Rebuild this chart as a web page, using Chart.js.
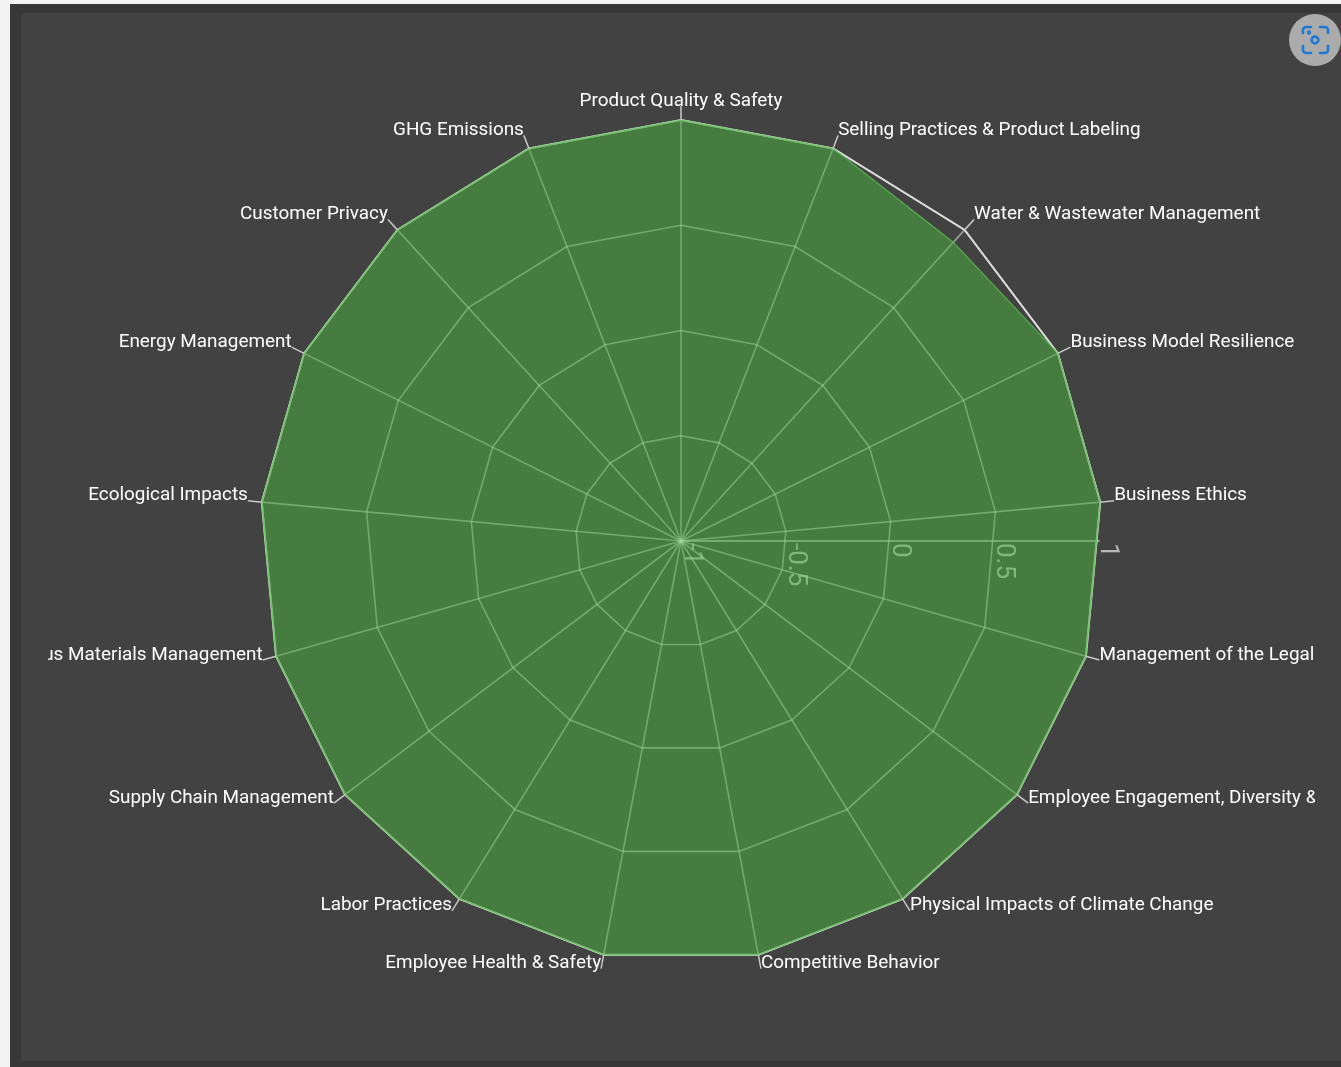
<!DOCTYPE html>
<html>
<head>
<meta charset="utf-8">
<title>Radar</title>
<script src="https://cdn.jsdelivr.net/npm/chart.js@4"></script>
<style>
  html, body { margin: 0; padding: 0; background: #f3f3f3; overflow: hidden; }
  .outer { position: absolute; left: 10px; top: 4px; width: 1331px; height: 1063px; background: #373737; }
  .panel { position: absolute; left: 21px; top: 13px; width: 1320px; height: 1048px; background: #424242; border-radius: 5px 0 0 0; }
  canvas { position: absolute; left: 0; top: 0; }
  .lens { position: absolute; left: 1289px; top: 14px; width: 52px; height: 52px; border-radius: 50%; background: #ababab; }
</style>
</head>
<body>
<div class="outer"></div>
<div class="panel"></div>
<canvas id="radarChart" width="1341" height="1067"></canvas>
<div class="lens">
  <svg width="52" height="52" viewBox="0 0 52 52" fill="none" stroke="#1f78d1" stroke-width="2.6" stroke-linecap="round">
    <path d="M14 19 v-3 a3 3 0 0 1 3-3 h5"/>
    <path d="M31 13 h5 a3 3 0 0 1 3 3 v3"/>
    <path d="M39 32 v4 a3 3 0 0 1-3 3 h-5"/>
    <path d="M22 39 h-5 a3 3 0 0 1-3-3 v-4"/>
    <circle cx="26" cy="26" r="3.4"/>
    <circle cx="20" cy="18.5" r="0.9"/>
  </svg>
</div>
<script>
const categories = [
  "Product Quality & Safety",
  "Selling Practices & Product Labeling",
  "Water & Wastewater Management",
  "Business Model Resilience",
  "Business Ethics",
  "Management of the Legal & Regulatory Environment",
  "Employee Engagement, Diversity & Inclusion",
  "Physical Impacts of Climate Change",
  "Competitive Behavior",
  "Employee Health & Safety",
  "Labor Practices",
  "Supply Chain Management",
  "Hazardous Materials Management",
  "Ecological Impacts",
  "Energy Management",
  "Customer Privacy",
  "GHG Emissions",
];
const scoreValues = [1, 1, 0.92, 1, 1, 1, 1, 1, 1, 1, 1, 1, 1, 1, 1, 1, 1];
const outlineValues = [1, 1, 1, 1, 1, 1, 1, 1, 1, 1, 1, 1, 1, 1, 1, 1, 1];
const tickValues = [-1, -0.5, 0, 0.5, 1];
const tickLabels = ["-1", "-0.5", "0", "0.5", "1"];

// tick labels sit on a horizontal axis, under the fill
const axisPlugin = {
  id: "axisPlugin",
  beforeDatasetsDraw(chart) {
    const scale = chart.scales.r;
    const ctx = chart.ctx;
    const half = Math.PI / categories.length;
    // the horizontal axis cuts the polygon edge between two spokes
    const factor = Math.cos(half) / Math.cos(half / 2);

    ctx.save();
    ctx.strokeStyle = "rgba(255,255,255,0.48)";
    ctx.lineWidth = 2;
    ctx.beginPath();
    ctx.moveTo(scale.xCenter, scale.yCenter);
    ctx.lineTo(scale.xCenter + scale.drawingArea * factor + 3, scale.yCenter);
    ctx.stroke();

    ctx.fillStyle = "rgba(255,255,255,0.62)";
    ctx.font = "26px Roboto";
    ctx.textAlign = "left";
    ctx.textBaseline = "alphabetic";
    tickValues.forEach((value, i) => {
      const dist = scale.getDistanceFromCenterForValue(value) * factor;
      ctx.save();
      ctx.translate(scale.xCenter + dist, scale.yCenter);
      ctx.rotate(Math.PI / 2);
      ctx.fillText(tickLabels[i], 2, -4);
      ctx.restore();
    });
    ctx.restore();
  },
};

// category labels with a short leader line, clipped like the original svg
const labelPlugin = {
  id: "labelPlugin",
  afterDatasetsDraw(chart) {
    const scale = chart.scales.r;
    const ctx = chart.ctx;
    const outer = scale.drawingArea;

    ctx.save();
    ctx.beginPath();
    ctx.rect(48, 0, 1267, chart.height);
    ctx.clip();
    ctx.font = "18.9px Roboto";
    ctx.fillStyle = "#ffffff";
    ctx.textBaseline = "alphabetic";
    categories.forEach((name, i) => {
      const start = scale.getPointPosition(i, outer);
      const end = scale.getPointPosition(i, outer + 14);
      ctx.strokeStyle = "#c8c8c8";
      ctx.lineWidth = 1.5;
      ctx.beginPath();
      ctx.moveTo(start.x, start.y);
      ctx.lineTo(end.x, end.y);
      ctx.stroke();

      if (i === 0) ctx.textAlign = "center";
      else if (i < categories.length / 2) ctx.textAlign = "left";
      else ctx.textAlign = "right";
      ctx.fillText(name, end.x, end.y - 0.5);
    });
    ctx.restore();
  },
};

const canvas = document.getElementById("radarChart");
const ctx = canvas.getContext("2d");

new Chart(ctx, {
  type: "radar",
  plugins: [axisPlugin, labelPlugin],
  data: {
    labels: categories,
    datasets: [
      {
        label: "Score",
        data: scoreValues,
        borderColor: "rgba(90,190,80,0.7)",
        borderWidth: 1.5,
        backgroundColor: "rgba(74,182,62,0.5)",
        fill: "start",
        pointRadius: 0,
        order: 1,
      },
      {
        label: "Outline",
        data: outlineValues,
        borderColor: "#dcdcdc",
        borderWidth: 2,
        fill: false,
        pointRadius: 0,
        order: 2,
      },
    ],
  },
  options: {
    responsive: false,
    animation: false,
    layout: { padding: { left: 260, right: 239, top: 120, bottom: 105 } },
    plugins: { legend: { display: false }, tooltip: { enabled: false } },
    scales: {
      r: {
        min: -1,
        max: 1,
        ticks: { stepSize: 0.5, display: false },
        pointLabels: { display: false },
        grid: { color: "rgba(255,255,255,0.48)", lineWidth: 1.6 },
        angleLines: { color: "rgba(255,255,255,0.48)", lineWidth: 1.6 },
      },
    },
  },
});
</script>
</body>
</html>
